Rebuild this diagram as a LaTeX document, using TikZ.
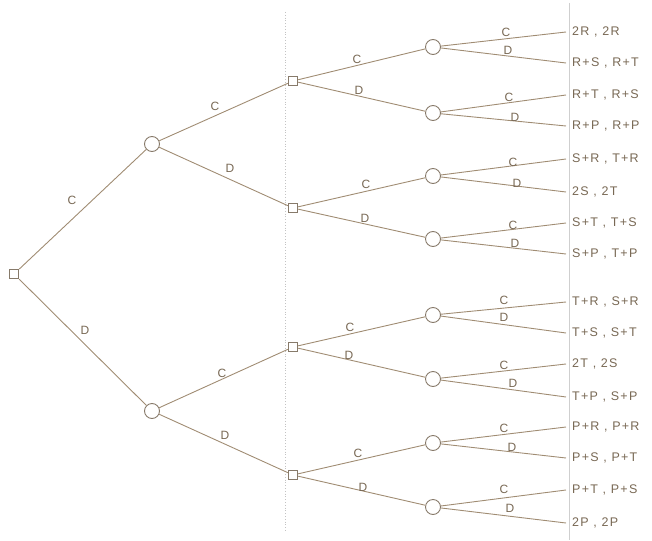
\documentclass[tikz,border=0pt]{standalone}
\usepackage{fontspec}
\setmainfont{Liberation Sans}
\newfontfamily\labfont[LetterSpace=10]{Liberation Sans}
\definecolor{edgec}{RGB}{160,140,115}
\definecolor{nodec}{RGB}{135,122,106}
\definecolor{txtc}{RGB}{120,104,84}
\definecolor{guidec}{RGB}{195,195,195}
\begin{document}
\begin{tikzpicture}[x=1pt,y=-1pt,
  sq/.style={draw=nodec, minimum size=9.5pt, inner sep=0pt, line width=0.9pt},
  ch/.style={draw=nodec, circle, minimum size=15pt, inner sep=0pt, line width=0.9pt},
  br/.style={draw=edgec, line width=0.9pt},
  lab/.style={text=txtc, font=\labfont\fontsize{12}{12}\selectfont, inner sep=0pt},
  leaf/.style={text=txtc, font=\labfont\fontsize{12.5}{12.5}\selectfont, anchor=west, inner ysep=0pt, inner xsep=6pt}
]
\useasboundingbox (0,0) rectangle (652,540);
% guide lines
\draw[guidec, dotted, line width=0.8pt] (285,12) -- (285,532);
\draw[guidec!80, line width=0.6pt] (569,3) -- (569,540);
% nodes
\node[sq] (r) at (14,274) {};
\node[ch] (a1) at (152,144) {};
\node[ch] (a2) at (152,411) {};
\node[sq] (b1) at (293,81) {};
\node[sq] (b2) at (293,208) {};
\node[sq] (b3) at (293,347) {};
\node[sq] (b4) at (293,475) {};
\foreach \i/\y in {1/47,2/113,3/176,4/239,5/315,6/379,7/443,8/507}
  \node[ch] (c\i) at (433,\y) {};
% leaves
\node[leaf] (l1) at (566,32) {2R , 2R};
\node[leaf] (l2) at (566,63) {R+S , R+T};
\node[leaf] (l3) at (566,95) {R+T , R+S};
\node[leaf] (l4) at (566,126) {R+P , R+P};
\node[leaf] (l5) at (566,159) {S+R , T+R};
\node[leaf] (l6) at (566,192) {2S , 2T};
\node[leaf] (l7) at (566,223) {S+T , T+S};
\node[leaf] (l8) at (566,254) {S+P , T+P};
\node[leaf] (l9) at (566,302) {T+R , S+R};
\node[leaf] (l10) at (566,333) {T+S , S+T};
\node[leaf] (l11) at (566,364) {2T , 2S};
\node[leaf] (l12) at (566,397) {T+P , S+P};
\node[leaf] (l13) at (566,427) {P+R , P+R};
\node[leaf] (l14) at (566,458) {P+S , P+T};
\node[leaf] (l15) at (566,490) {P+T , P+S};
\node[leaf] (l16) at (566,523) {2P , 2P};
% edges
\draw[br] (r) -- (a1);
\draw[br] (r) -- (a2);
\draw[br] (a1) -- (b1);
\draw[br] (a1) -- (b2);
\draw[br] (a2) -- (b3);
\draw[br] (a2) -- (b4);
\draw[br] (b1) -- (c1); \draw[br] (b1) -- (c2);
\draw[br] (b2) -- (c3); \draw[br] (b2) -- (c4);
\draw[br] (b3) -- (c5); \draw[br] (b3) -- (c6);
\draw[br] (b4) -- (c7); \draw[br] (b4) -- (c8);
\foreach \c/\u/\d in {1/1/2,2/3/4,3/5/6,4/7/8,5/9/10,6/11/12,7/13/14,8/15/16}{
  \draw[br] (c\c) -- (l\u.west);
  \draw[br] (c\c) -- (l\d.west);
}
% edge labels
\node[lab] (e1) at (72,200) {C};
\node[lab] (e2) at (85,330) {D};
\node[lab] (e3) at (215,106) {C};
\node[lab] (e4) at (230,168) {D};
\node[lab] (e5) at (222,373) {C};
\node[lab] (e6) at (225,435) {D};
\node[lab] (e7) at (357,59) {C};
\node[lab] (e8) at (359,90) {D};
\node[lab] (e9) at (366,184) {C};
\node[lab] (e10) at (365,218) {D};
\node[lab] (e11) at (350,327) {C};
\node[lab] (e12) at (349,355) {D};
\node[lab] (e13) at (358,453) {C};
\node[lab] (e14) at (363,487) {D};
\node[lab] (f1) at (506,32) {C};
\node[lab] (f2) at (508,50) {D};
\node[lab] (f3) at (509,97) {C};
\node[lab] (f4) at (515,117) {D};
\node[lab] (f5) at (513,162) {C};
\node[lab] (f6) at (517,183) {D};
\node[lab] (f7) at (513,225) {C};
\node[lab] (f8) at (515,243) {D};
\node[lab] (f9) at (504,300) {C};
\node[lab] (f10) at (504,317) {D};
\node[lab] (f11) at (504,365) {C};
\node[lab] (f12) at (513,383) {D};
\node[lab] (f13) at (504,428) {C};
\node[lab] (f14) at (512,447) {D};
\node[lab] (f15) at (504,489) {C};
\node[lab] (f16) at (510,508) {D};
\end{tikzpicture}
\end{document}
